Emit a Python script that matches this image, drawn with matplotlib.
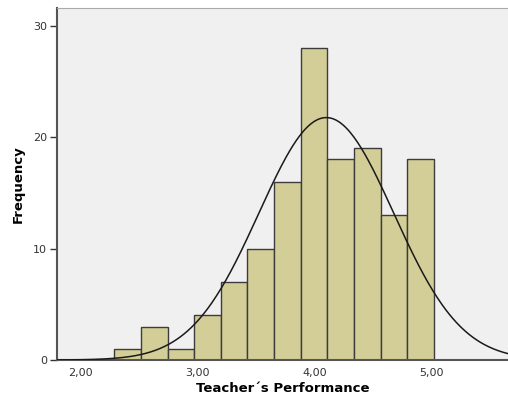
import numpy as np
import matplotlib.pyplot as plt

# histogram bins (Teacher's Performance) and counts
bin_start = 2.29
bin_width = 0.2273
counts = [1, 3, 1, 4, 7, 10, 16, 28, 18, 19, 13, 18]
xticks = [2.0, 3.0, 4.0, 5.0]
xtick_labels = ["2,00", "3,00", "4,00", "5,00"]
yticks = [0, 10, 20, 30]

# summary stats for the normal curve
mean = 4.10
sd = 0.575
n = sum(counts)

edges = bin_start + bin_width * np.arange(len(counts) + 1)

fig = plt.figure(figsize=(5.08, 4.0), dpi=100)
ax = fig.add_axes([0.112, 0.10, 0.89, 0.88])
ax.set_facecolor("#f0f0f0")

ax.bar(edges[:-1], counts, width=bin_width, align="edge",
       color="#d3ce97", edgecolor="#3c3c3c", linewidth=1.0, zorder=2)

xs = np.linspace(1.8, 5.8, 400)
curve = n * bin_width * np.exp(-(xs - mean) ** 2 / (2 * sd ** 2)) / (sd * np.sqrt(2 * np.pi))
ax.plot(xs, curve, color="#1a1a1a", linewidth=1.1, zorder=3)

ax.set_xlim(1.80, 5.66)
ax.set_ylim(0, 31.6)
ax.set_xticks(xticks)
ax.set_xticklabels(xtick_labels)
ax.set_yticks(yticks)
ax.tick_params(axis="x", length=0, pad=6, labelsize=8, labelcolor="#333333")
ax.tick_params(axis="y", length=5, width=1, color="#333333", pad=2,
               labelsize=8, labelcolor="#333333")

for side in ["left", "bottom"]:
    ax.spines[side].set_color("#555555")
    ax.spines[side].set_linewidth(1.5)
ax.spines["top"].set_color("#aaaaaa")
ax.spines["top"].set_linewidth(0.8)
ax.spines["right"].set_visible(False)

ax.set_xlabel("Teacher´s Performance", fontsize=9.5, fontweight="bold", labelpad=3)
ax.set_ylabel("Frequency", fontsize=9.5, fontweight="bold", labelpad=6)

fig.savefig("out.png", dpi=100)
